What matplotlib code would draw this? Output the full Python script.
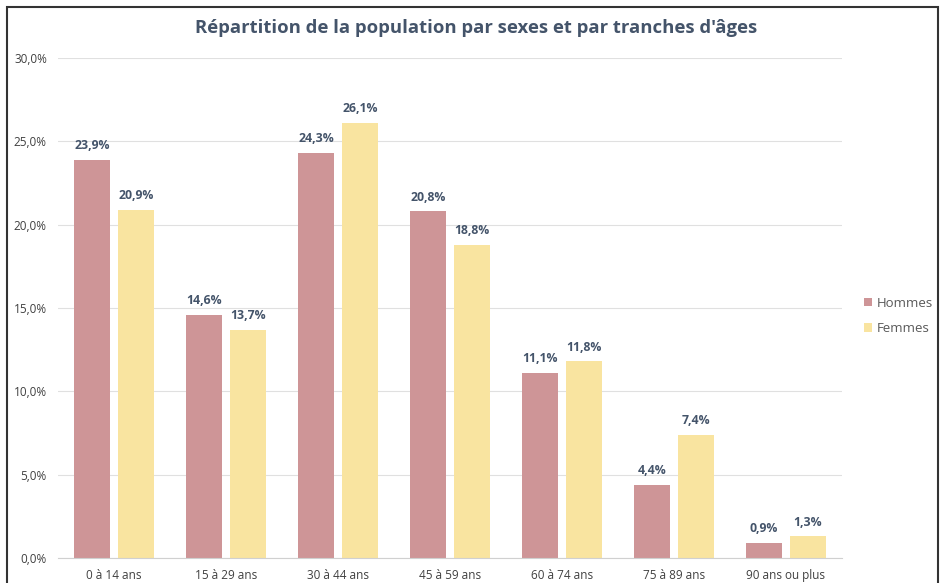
import matplotlib
matplotlib.use("Agg")
import matplotlib.pyplot as plt
import numpy as np
from matplotlib.patches import Rectangle
from matplotlib.ticker import FuncFormatter

categories = ["0 à 14 ans", "15 à 29 ans", "30 à 44 ans", "45 à 59 ans",
              "60 à 74 ans", "75 à 89 ans", "90 ans ou plus"]
hommes = [23.9, 14.6, 24.3, 20.8, 11.1, 4.4, 0.9]
femmes = [20.9, 13.7, 26.1, 18.8, 11.8, 7.4, 1.3]

c_h = "#CE9597"
c_f = "#F9E4A0"
txt = "#44546A"

plt.rcParams['font.family'] = ['Open Sans', 'DejaVu Sans']

fig = plt.figure(figsize=(9.41, 5.83), dpi=100)
ax = fig.add_axes([58/941, 1-558/583, (842-58)/941, 500/583])

x = np.arange(len(categories))
w = 0.32
off = 0.196
bh = ax.bar(x - off, hommes, w, color=c_h, label="Hommes", zorder=3)
bf = ax.bar(x + off, femmes, w, color=c_f, label="Femmes", zorder=3)

for bars, vals in ((bh, hommes), (bf, femmes)):
    for b, v in zip(bars, vals):
        ax.text(b.get_x() + b.get_width()/2, v + 0.45, f"{v:.1f}%".replace(".", ","),
                ha="center", va="bottom", fontsize=8.8, fontweight="bold", color=txt)

ax.set_xlim(-0.5, len(categories) - 0.5)
ax.set_ylim(0, 30)
ax.set_yticks(np.arange(0, 30.1, 5))
ax.yaxis.set_major_formatter(FuncFormatter(lambda v, p: f"{v:.1f}%".replace(".", ",")))
ax.set_xticks(x)
ax.set_xticklabels(categories)
ax.tick_params(axis="both", length=0, labelsize=8.5, labelcolor="#404040")
ax.tick_params(axis="x", pad=8)
ax.tick_params(axis="y", pad=8)
ax.grid(axis="y", color="#E0E0E0", linewidth=0.8, zorder=0)
for s in ["top", "right", "left"]:
    ax.spines[s].set_visible(False)
ax.spines["bottom"].set_color("#D0D0D0")
ax.spines["bottom"].set_zorder(4)

fig.text(476/941, 1-28/583, "Répartition de la population par sexes et par tranches d'âges",
         ha="center", va="center", fontsize=13.3, fontweight="bold", color=txt,
         family=["Liberation Sans Narrow", "Open Sans", "DejaVu Sans"])

leg = fig.legend(handles=[bh, bf], labels=["Hommes", "Femmes"], loc="center left",
                 bbox_to_anchor=(852/941, 1-316/583), frameon=False, fontsize=9.5,
                 handlelength=0.6, handleheight=0.6, handletextpad=0.4, labelspacing=0.95)
for t in leg.get_texts():
    t.set_color("#595959")

fig.add_artist(Rectangle((7/941, -0.01), (938-7)/941, 1 - 7/583 + 0.01,
                         transform=fig.transFigure, fill=False, edgecolor="#333333",
                         linewidth=1.5))

fig.savefig("out.png", dpi=100)
